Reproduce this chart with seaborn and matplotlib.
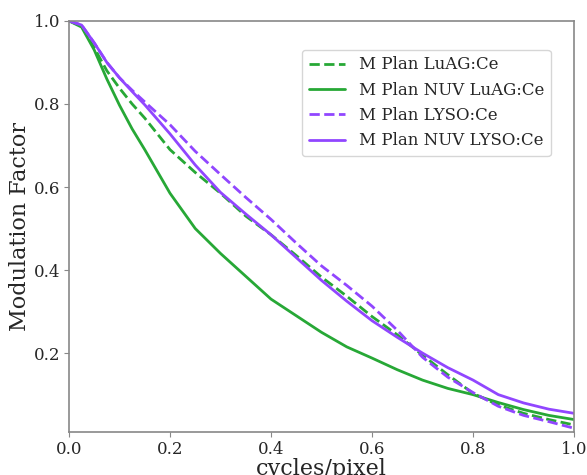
import matplotlib
matplotlib.use("Agg")
import matplotlib.pyplot as plt
import seaborn as sns

freq = [0.0, 0.025, 0.05, 0.075, 0.1, 0.125, 0.15, 0.2, 0.25, 0.3, 0.35, 0.4, 0.45, 0.5,
        0.55, 0.6, 0.65, 0.7, 0.75, 0.8, 0.85, 0.9, 0.95, 1.0]

luag = [1.0, 0.988, 0.935, 0.88, 0.838, 0.80, 0.766, 0.69, 0.635, 0.585, 0.53, 0.485, 0.435, 0.383,
        0.337, 0.288, 0.244, 0.195, 0.148, 0.103, 0.075, 0.055, 0.04, 0.027]
nuv_luag = [1.0, 0.985, 0.93, 0.86, 0.797, 0.74, 0.69, 0.585, 0.50, 0.44, 0.385, 0.33, 0.29, 0.25,
            0.215, 0.188, 0.16, 0.135, 0.115, 0.1, 0.081, 0.064, 0.05, 0.04]
lyso = [1.0, 0.99, 0.947, 0.90, 0.863, 0.833, 0.805, 0.75, 0.686, 0.63, 0.575, 0.522, 0.465, 0.41,
        0.363, 0.313, 0.255, 0.19, 0.142, 0.105, 0.072, 0.05, 0.035, 0.019]
nuv_lyso = [1.0, 0.99, 0.947, 0.90, 0.863, 0.83, 0.798, 0.728, 0.653, 0.587, 0.535, 0.485, 0.43, 0.375,
            0.325, 0.278, 0.238, 0.2, 0.165, 0.135, 0.1, 0.08, 0.065, 0.055]

labels = ["M Plan LuAG:Ce", "M Plan NUV LuAG:Ce", "M Plan LYSO:Ce", "M Plan NUV LYSO:Ce"]
series = [luag, nuv_luag, lyso, nuv_lyso]
colors = ["#27a836", "#27a836", "#9146ff", "#9146ff"]
styles = ["--", "-", "--", "-"]

sns.set_style("white")
plt.rcParams["font.family"] = ["DejaVu Serif"]

fig = plt.figure(figsize=(5.87, 4.75), dpi=100)
ax = fig.add_axes([0.1175, 0.0905, 0.8605, 0.8655])

for vals, lab, col, ls in zip(series, labels, colors, styles):
    sns.lineplot(x=freq, y=vals, ax=ax, color=col, linestyle=ls, linewidth=2, label=lab)

ax.set_xlim(0, 1.0)
ax.set_ylim(0.01, 1.0)
ax.set_xticks([0.0, 0.2, 0.4, 0.6, 0.8, 1.0])
ax.set_yticks([0.2, 0.4, 0.6, 0.8, 1.0])
ax.tick_params(labelsize=12, length=3.5, color="#888888", left=True, bottom=True, pad=3)
for s in ax.spines.values():
    s.set_color("#888888")
    s.set_linewidth(1.2)

ax.set_xlabel("cycles/pixel", fontsize=16, labelpad=0)
ax.set_ylabel("Modulation Factor", fontsize=16, labelpad=2)

ax.legend(loc="upper right", bbox_to_anchor=(0.97, 0.95), fontsize=12,
          frameon=True, handlelength=2.2)

fig.savefig("out.png", dpi=100)
